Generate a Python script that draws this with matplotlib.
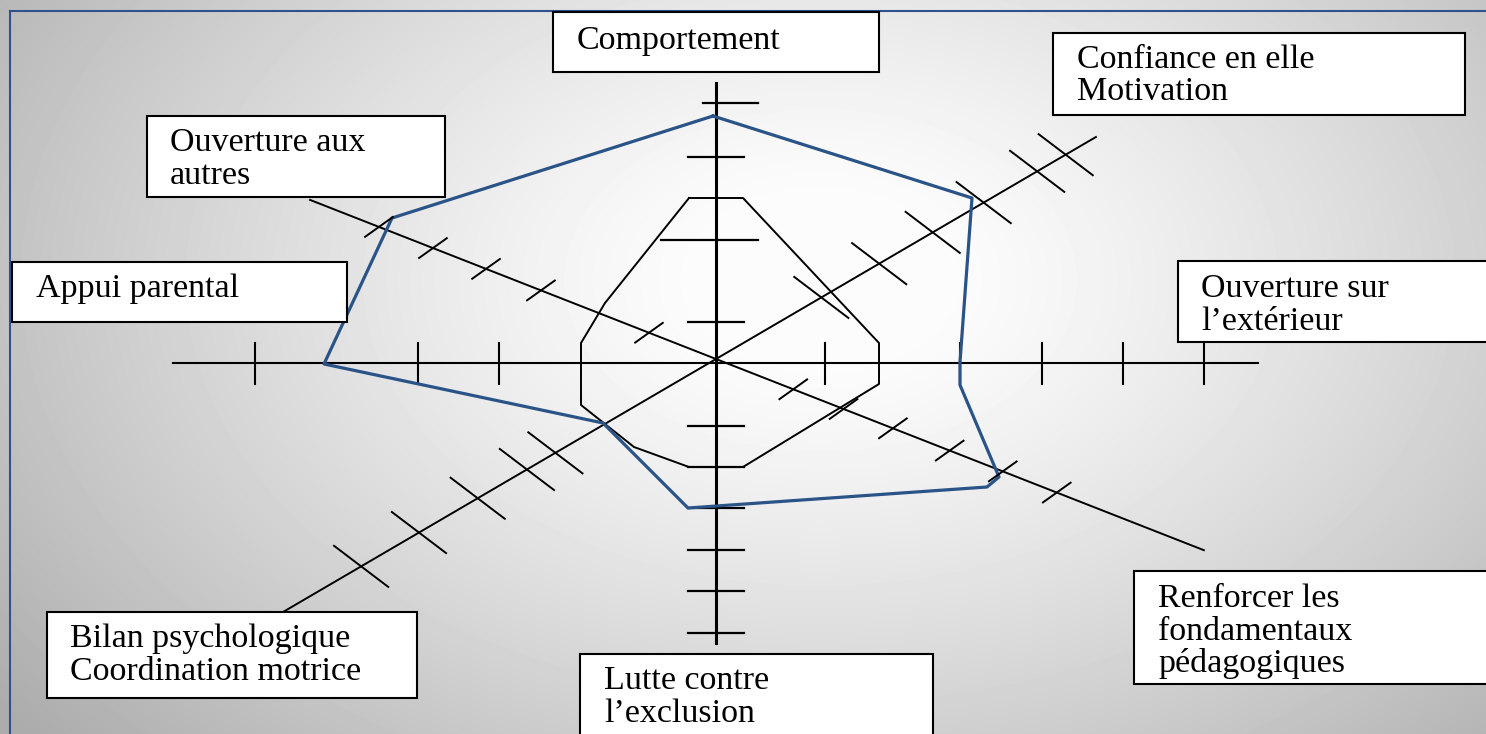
import numpy as np
import matplotlib.pyplot as plt
from matplotlib.patches import Rectangle

# labels of the 8 branches
labels = ['Comportement',
          'Confiance en elle\nMotivation',
          'Ouverture sur\nl’extérieur',
          'Renforcer les\nfondamentaux\npédagogiques',
          'Lutte contre\nl’exclusion',
          'Bilan psychologique\nCoordination motrice',
          'Appui parental',
          'Ouverture aux\nautres']

# graduations along each axis (distance from the centre)
ticks_vert = [256, 202, 119, 37, -67, -108, -149, -191, -232, -274]
ticks_vert_left = [13, 28, 55, 28, 28, 28, 28, 28, 28, 28]
ticks_vert_right = [42, 28, 42, 28, 28, 28, 28, 28, 28, 28]
ticks_horiz = [-461, -298, -217, 109, 244, 326, 407, 488]
ticks_diag_a = [122, 189, 251, 310, 372, 405, -186, -219, -276, -344, -411]
ticks_diag_b = [83, 137, 190, 251, 308, 366, -72, -188, -247, -304, -362]

# inner (black) polygon, offsets from the centre
inner_dx = [-27, 27, 163, 163, 27, -27, -82, -135, -135, -111]
inner_dy = [-161, -161, -16, 25, 108, 108, 88, 46, -16, -56]

# profile (blue) polygon, offsets from the centre
profile_dx = [-3, 256, 244, 244, 283, 271, -28, -113, -392, -324]
profile_dy = [-243, -161, 3, 26, 118, 128, 149, 64, 5, -141]

# ---- layout ----
W, H = 1486, 734
cx, cy = 716, 359
horiz_y = 363

fig = plt.figure(figsize=(W / 100, H / 100), dpi=100)
ax = fig.add_axes([0, 0, 1, 1])
ax.set_xlim(0, W)
ax.set_ylim(H, 0)
ax.axis('off')

# grey radial background
xx, yy = np.meshgrid(np.arange(W), np.arange(H))
r = np.sqrt(((xx - 820) / 900) ** 2 + ((yy - 280) / 600) ** 2)
v = 0.985 - 0.31 * np.clip(r - 0.15, 0, 1) ** 1.2
ax.imshow(v, cmap='gray', vmin=0, vmax=1, extent=(0, W, H, 0), zorder=0)

# blue frame
ax.plot([10, W], [11, 11], color='#2F528F', lw=1.5, zorder=1)
ax.plot([10, 10], [11, H], color='#2F528F', lw=1.5, zorder=1)

# vertical axis
ax.plot([cx, cx], [cy - 276, cy + 284], color='black', lw=2.2, zorder=2)
for p, lo, hi in zip(ticks_vert, ticks_vert_left, ticks_vert_right):
    ax.plot([cx - lo, cx + hi], [cy - p, cy - p], color='black', lw=1.6, zorder=2)

# horizontal axis
ax.plot([cx - 543, cx + 542], [horiz_y, horiz_y], color='black', lw=1.5, zorder=2)
for p in ticks_horiz:
    ax.plot([cx + p, cx + p], [horiz_y - 20, horiz_y + 21], color='black', lw=1.5, zorder=2)


def spoke(angle, neg_len, pos_len, ticks, tick_dir, half):
    u = np.array([np.cos(np.radians(angle)), -np.sin(np.radians(angle))])
    t = np.array(tick_dir) / np.hypot(*tick_dir)
    a = np.array([cx, cy]) - neg_len * u
    b = np.array([cx, cy]) + pos_len * u
    ax.plot([a[0], b[0]], [a[1], b[1]], color='black', lw=1.4, zorder=2)
    for p in ticks:
        m = np.array([cx, cy]) + p * u
        ax.plot([m[0] - half * t[0], m[0] + half * t[0]],
                [m[1] - half * t[1], m[1] + half * t[1]],
                color='black', lw=1.4, zorder=4)


spoke(30.3, 502, 440, ticks_diag_a, (0.797, 0.604), 34)
spoke(-21.4, 436, 524, ticks_diag_b, (0.814, -0.581), 17)

# inner polygon
ix = [cx + d for d in inner_dx + inner_dx[:1]]
iy = [cy + d for d in inner_dy + inner_dy[:1]]
ax.plot(ix, iy, color='black', lw=1.4, zorder=2)

# blue profile
px = [cx + d for d in profile_dx + profile_dx[:1]]
py = [cy + d for d in profile_dy + profile_dy[:1]]
ax.plot(px, py, color='#2A5387', lw=2.3, zorder=3)

# label boxes: (x0, y0, x1, y1, text x, first baseline y)
boxes = [(553, 12, 879, 72, 577, 49),
         (1053, 33, 1465, 115, 1077, 68),
         (1178, 261, 1495, 342, 1201, 297),
         (1134, 571, 1495, 684, 1158, 607),
         (580, 654, 933, 745, 604, 689),
         (47, 612, 417, 698, 70, 647),
         (12, 262, 347, 322, 36, 297),
         (147, 116, 445, 197, 170, 151)]

for lab, (x0, y0, x1, y1, tx, ty) in zip(labels, boxes):
    ax.add_patch(Rectangle((x0, y0), x1 - x0, y1 - y0, facecolor='white',
                           edgecolor='black', lw=1.5, zorder=5))
    for i, line in enumerate(lab.split('\n')):
        ax.text(tx, ty + i * 32.5, line, fontsize=24.5, family='Liberation Serif',
                ha='left', va='baseline', color='black', zorder=6)

plt.savefig('out.png', dpi=100)
